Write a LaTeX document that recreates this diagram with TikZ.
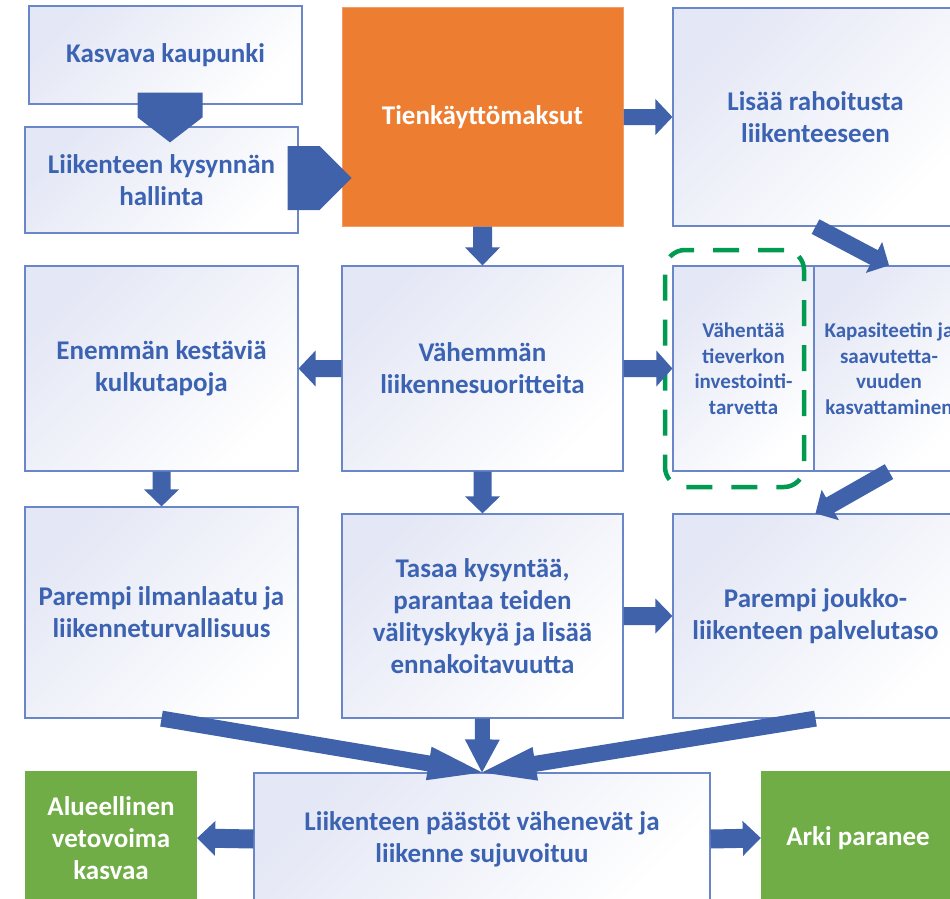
\documentclass[tikz,border=0pt]{standalone}
\usepackage{fontspec}
\setmainfont{Carlito}
\usetikzlibrary{calc}

\definecolor{textblue}{RGB}{60,99,178}
\definecolor{arrowfill}{RGB}{63,98,171}
\definecolor{boxline}{RGB}{105,135,200}
\definecolor{boxtop}{RGB}{228,231,245}
\definecolor{orangefill}{RGB}{237,125,49}
\definecolor{greenfill}{RGB}{112,173,71}
\definecolor{dashgreen}{RGB}{0,155,80}

\newcommand\bigtxt{\fontsize{27}{32}\selectfont\bfseries}
\newcommand\smalltxt{\fontsize{21}{25.5}\selectfont\bfseries}

% block arrow: tail, tip, shaft half-width, head half-width, head length
\newcommand\blockarrow[5]{%
  \coordinate (ba) at (#1);
  \coordinate (bb) at (#2);
  \coordinate (bh) at ($(bb)!#5!(ba)$);
  \fill[arrowfill] ($(ba)!#3!90:(bb)$) -- ($(bh)!#3!90:(bb)$) -- ($(bh)!#4!90:(bb)$)
    -- (bb) -- ($(bh)!#4!-90:(bb)$) -- ($(bh)!#3!-90:(bb)$) -- ($(ba)!#3!-90:(bb)$) -- cycle;}

\tikzset{
  box/.style={draw=boxline, line width=1.2pt, top color=boxtop,
    middle color=boxtop!35!white, bottom color=white,
    shading angle=45, text=textblue, font=\bigtxt, align=center, inner sep=0pt},
  small/.style={font=\smalltxt},
  orangebox/.style={fill=orangefill, draw=orangefill!75!white, line width=1pt,
    text=white, font=\bigtxt, align=center, inner sep=0pt},
  greenbox/.style={fill=greenfill, draw=none, text=white, font=\bigtxt,
    align=center, inner sep=0pt},
  dashbox/.style={draw=dashgreen, line width=4.5pt, rounded corners=20pt,
    dash pattern=on 26pt off 19pt, inner sep=0pt},
  sz/.style n args={2}{minimum width=#1pt, minimum height=#2pt}
}

\begin{document}
\begin{tikzpicture}[x=1pt, y=-1pt]
\useasboundingbox (0,0) rectangle (950,899);
\clip (0,0) rectangle (950,899);

% top row
\node[box, sz={273}{98}] (kasvava) at (165.5,55) {Kasvava kaupunki};
\node[box, sz={273}{106}] (hallinta) at (161.5,180) {Liikenteen kysynnän\\hallinta};
\node[orangebox, sz={281}{218}] (maksut) at (482.5,117) {Tienkäyttömaksut};
\node[box, sz={285}{218}] (rahoitus) at (815.5,117) {Lisää rahoitusta\\liikenteeseen};

% second row
\node[box, sz={273}{205}] (kestavia) at (161.5,368.5) {Enemmän kestäviä\\kulkutapoja};
\node[box, sz={281}{205}] (suoritteet) at (482.5,368.5) {Vähemmän\\liikennesuoritteita};
\node[box, small, sz={141}{205}] (investointi) at (743.5,368.5) {Vähentää\\tieverkon\\investointi-\\tarvetta};
\node[box, small, sz={150}{205}] (kapasiteetti) at (889,368.5) {Kapasiteetin ja\\saavutetta-\\vuuden\\kasvattaminen};

% third row
\node[box, sz={273}{211}] (ilmanlaatu) at (161.5,612.5) {Parempi ilmanlaatu ja\\liikenneturvallisuus};
\node[box, sz={281}{204}] (tasaa) at (482.5,616) {Tasaa kysyntää,\\parantaa teiden\\välityskykyä ja lisää\\ennakoitavuutta};
\node[box, sz={285}{204}] (joukko) at (815.5,616) {Parempi joukko-\\liikenteen palvelutaso};

% bottom row
\node[greenbox, sz={172}{134}] (vetovoima) at (111,838) {Alueellinen\\vetovoima\\kasvaa};
\node[box, sz={456}{132}] (paastot) at (482,839) {Liikenteen päästöt vähenevät ja\\liikenne sujuvoituu};
\node[greenbox, sz={194}{134}] (arki) at (858,838) {Arki paranee};

% highlight around the investment box
\node[dashbox, sz={139}{237}] (tarve) at (734.5,368.5) {};

% connectors
\blockarrow{$(kasvava.south)+(4.5,-12)$}{$(hallinta.north)+(8.5,16)$}{32.5pt}{32.5pt}{25pt}
\blockarrow{$(hallinta.east)+(-11,-2)$}{$(maksut.west)+(10,61)$}{32pt}{32pt}{32pt}
\blockarrow{maksut.east}{rahoitus.west}{8pt}{18pt}{17pt}
\blockarrow{maksut.south}{suoritteet.north}{9.5pt}{17.5pt}{18pt}
\blockarrow{suoritteet.west}{kestavia.east}{8.5pt}{18pt}{17pt}
\blockarrow{suoritteet.east}{investointi.west}{8.5pt}{18pt}{16pt}
\blockarrow{rahoitus.south}{kapasiteetti.north}{8.25pt}{17.5pt}{17pt}
\blockarrow{kapasiteetti.south}{joukko.north}{8.5pt}{17.5pt}{17pt}
\blockarrow{kestavia.south}{ilmanlaatu.north}{9pt}{17.5pt}{17pt}
\blockarrow{suoritteet.south}{tasaa.north}{9pt}{17.5pt}{17pt}
\blockarrow{tasaa.east}{joukko.west}{9pt}{17.5pt}{17pt}
\blockarrow{ilmanlaatu.south}{paastot.north}{8pt}{17pt}{54pt}
\blockarrow{tasaa.south}{paastot.north}{7.5pt}{17.5pt}{33pt}
\blockarrow{joukko.south}{paastot.north}{8pt}{17pt}{54pt}
\blockarrow{paastot.west}{vetovoima.east}{9.5pt}{17.5pt}{18pt}
\blockarrow{paastot.east}{arki.west}{9.5pt}{17.5pt}{18pt}
\end{tikzpicture}
\end{document}
